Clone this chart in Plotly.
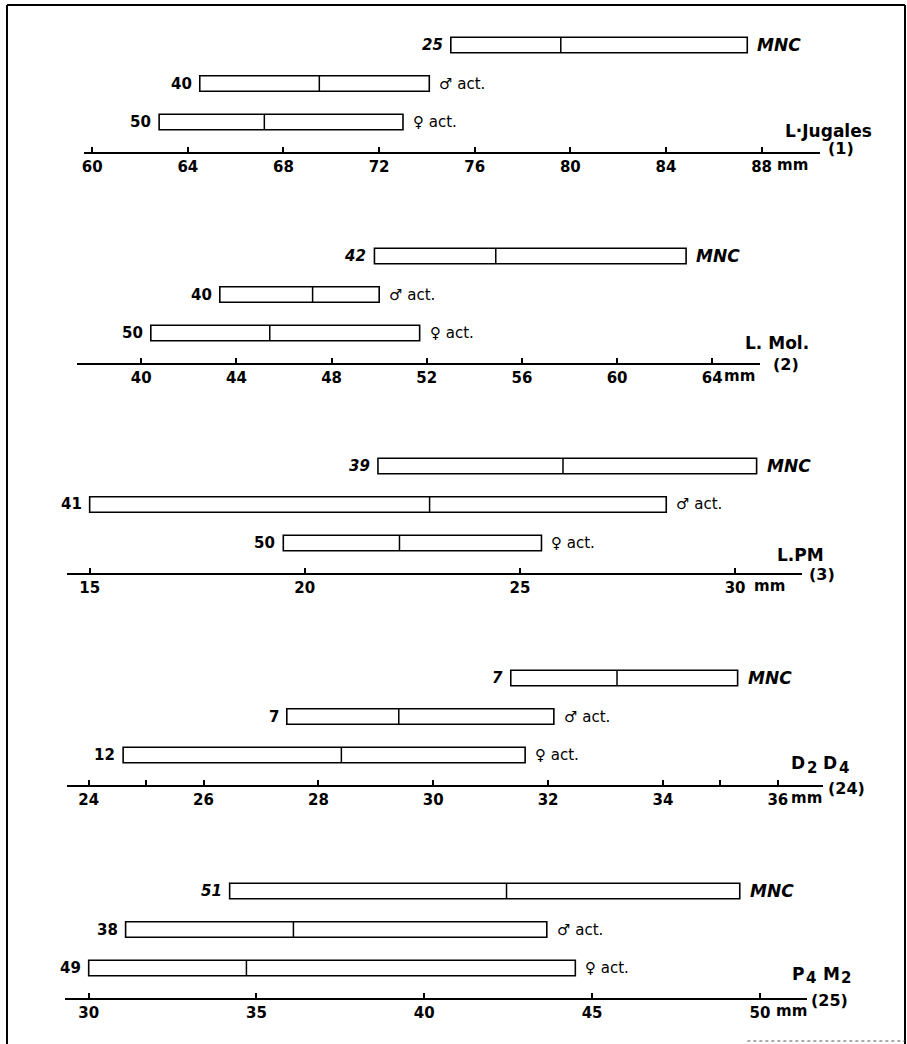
import plotly.graph_objects as go

# Ranges (min, mean, max) and sample counts for three groups per measurement
groups = ["MNC", "♂ act.", "♀ act."]

jugal_n = [25, 40, 50]
jugal_min = [75.0, 64.5, 62.8]
jugal_mean = [79.6, 69.5, 67.2]
jugal_max = [87.4, 74.1, 73.0]

mol_n = [42, 40, 50]
mol_min = [49.8, 43.3, 40.4]
mol_mean = [54.9, 47.2, 45.4]
mol_max = [62.9, 50.0, 51.7]

pm_n = [39, 41, 50]
pm_min = [21.7, 15.0, 19.5]
pm_mean = [26.0, 22.9, 22.2]
pm_max = [30.5, 28.4, 25.5]

d2d4_n = [7, 7, 12]
d2d4_min = [31.35, 27.45, 24.6]
d2d4_mean = [33.2, 29.4, 28.4]
d2d4_max = [35.3, 32.1, 31.6]

p4m2_n = [51, 38, 49]
p4m2_min = [34.2, 31.1, 30.0]
p4m2_mean = [42.45, 36.1, 34.7]
p4m2_max = [49.4, 43.65, 44.5]

jugal_ticks = [60, 64, 68, 72, 76, 80, 84, 88]
mol_ticks = [40, 44, 48, 52, 56, 60, 64]
pm_ticks = [15, 20, 25, 30]
d2d4_ticks = [24, 26, 28, 30, 32, 34, 36]
d2d4_minor_ticks = [25, 35]
p4m2_ticks = [30, 35, 40, 45, 50]

W, H = 907, 1044
FONT = "DejaVu Sans"

# Page layout of each panel (pixels): axis baseline, axis ends, x range, titles.
# Titles are lists of (text, left x, centre y, size) pieces so indices sit lowered.
panels = [
    dict(n=jugal_n, lo=jugal_min, mean=jugal_mean, hi=jugal_max, ticks=jugal_ticks,
         axis_y=152, left=82, right=820, xr=[59.65, 90.45],
         title=[("L·Jugales", 784, 131, 17)], num="(1)", num_pos=(827, 149), mm_shift=13),
    dict(n=mol_n, lo=mol_min, mean=mol_mean, hi=mol_max, ticks=mol_ticks,
         axis_y=363, left=75, right=760, xr=[37.29, 66.02],
         title=[("L. Mol.", 744, 343, 17)], num="(2)", num_pos=(772, 364), mm_shift=10),
    dict(n=pm_n, lo=pm_min, mean=pm_mean, hi=pm_max, ticks=pm_ticks,
         axis_y=573, left=65, right=802, xr=[14.47, 31.56],
         title=[("L.PM", 776, 555, 17)], num="(3)", num_pos=(808, 574), mm_shift=17),
    dict(n=d2d4_n, lo=d2d4_min, mean=d2d4_mean, hi=d2d4_max, ticks=d2d4_ticks,
         axis_y=785, left=65, right=823, xr=[23.62, 36.79],
         title=[("D", 790, 763, 17), ("2", 806, 768, 15), ("D", 822, 763, 17), ("4", 838, 768, 15)],
         num="(24)", num_pos=(827, 788), mm_shift=11),
    dict(n=p4m2_n, lo=p4m2_min, mean=p4m2_mean, hi=p4m2_max, ticks=p4m2_ticks,
         axis_y=998, left=63, right=807, xr=[29.29, 51.41],
         title=[("P", 791, 974, 17), ("4", 805, 978, 15), ("M", 822, 974, 17), ("2", 840, 978, 15)],
         num="(25)", num_pos=(810, 1000), mm_shift=14),
]

ROWS = [3, 2, 1]          # MNC on top, females at the bottom
ROW_PX = 38.5             # vertical distance between rows
FIRST_ROW_PX = 30         # height of the lowest row above the axis
PANEL_PX = 125            # height of each panel's plotting area
HALF = 0.2                # half bar height in row units

TICKFONT = dict(family=FONT, size=15, color="black", weight="bold")

fig = go.Figure()
shapes, annotations = [], []
layout = {}

for k, p in enumerate(panels, start=1):
    sfx = "" if k == 1 else str(k)
    xa, ya = "x" + sfx, "y" + sfx
    y_lo = 1 - FIRST_ROW_PX / ROW_PX
    y_hi = y_lo + PANEL_PX / ROW_PX

    layout["xaxis" + sfx] = dict(
        domain=[p["left"] / W, p["right"] / W], range=p["xr"], anchor=ya,
        tickmode="array", tickvals=p["ticks"], ticktext=[str(t) for t in p["ticks"]],
        ticks="inside", ticklen=5, tickwidth=1.5, tickcolor="black",
        showline=True, linecolor="black", linewidth=1.6,
        showgrid=False, zeroline=False, fixedrange=True, tickfont=TICKFONT,
    )
    layout["yaxis" + sfx] = dict(
        domain=[(H - p["axis_y"]) / H, (H - p["axis_y"] + PANEL_PX) / H],
        range=[y_lo, y_hi], anchor=xa, visible=False, fixedrange=True,
    )

    spans = [h - l for l, h in zip(p["lo"], p["hi"])]
    fig.add_trace(go.Bar(
        orientation="h", y=ROWS, x=spans, base=p["lo"], width=2 * HALF,
        marker=dict(color="white", line=dict(color="black", width=1.6)),
        xaxis=xa, yaxis=ya, hoverinfo="skip",
    ))

    for row, m in zip(ROWS, p["mean"]):
        shapes.append(dict(type="line", xref=xa, yref=ya, x0=m, x1=m,
                           y0=row - HALF, y1=row + HALF,
                           line=dict(color="black", width=1.5)))

    for i, (row, n, lo, hi) in enumerate(zip(ROWS, p["n"], p["lo"], p["hi"])):
        mnc = i == 0
        annotations.append(dict(
            x=lo, y=row, xref=xa, yref=ya, text=str(n), showarrow=False,
            xanchor="right", yanchor="middle", xshift=-6,
            font=dict(family=FONT, size=15, color="black", weight="bold",
                      style="italic" if mnc else "normal")))
        annotations.append(dict(
            x=hi, y=row, xref=xa, yref=ya, text=groups[i], showarrow=False,
            xanchor="left", yanchor="middle", xshift=8,
            font=dict(family=FONT, size=17 if mnc else 15, color="black",
                      weight="bold" if mnc else "normal",
                      style="italic" if mnc else "normal")))

    # unit after the last tick label
    annotations.append(dict(
        x=p["ticks"][-1], y=0, xref=xa, yref=ya + " domain", text="mm",
        showarrow=False, xanchor="left", yanchor="top", xshift=p["mm_shift"], yshift=-2,
        font=TICKFONT))

    for text, tx, ty, size in p["title"]:
        annotations.append(dict(
            x=tx / W, y=1 - ty / H, xref="paper", yref="paper", text=text,
            showarrow=False, xanchor="left", yanchor="middle", borderpad=0,
            font=dict(family=FONT, size=size, color="black", weight="bold")))
    nx, ny = p["num_pos"]
    annotations.append(dict(
        x=nx / W, y=1 - ny / H, xref="paper", yref="paper", text=p["num"],
        showarrow=False, xanchor="left", yanchor="middle", borderpad=0,
        font=dict(family=FONT, size=16, color="black", weight="bold")))

# unlabelled half-way ticks on the D2 D4 scale
layout["xaxis6"] = dict(
    overlaying="x4", anchor="y4", range=panels[3]["xr"], side="bottom",
    tickmode="array", tickvals=d2d4_minor_ticks, showticklabels=False,
    ticks="inside", ticklen=5, tickwidth=1.5, tickcolor="black",
    showline=False, showgrid=False, zeroline=False, fixedrange=True,
)
fig.add_trace(go.Scatter(x=[None], y=[None], xaxis="x6", yaxis="y4",
                         showlegend=False, hoverinfo="skip"))

# page frame
frame = dict(color="black", width=2)
shapes += [
    dict(type="line", xref="paper", yref="paper", x0=5 / W, x1=5 / W, y0=0, y1=1 - 5 / H, line=frame),
    dict(type="line", xref="paper", yref="paper", x0=5 / W, x1=905 / W, y0=1 - 5 / H, y1=1 - 5 / H, line=frame),
    dict(type="line", xref="paper", yref="paper", x0=905 / W, x1=905 / W, y0=0, y1=1 - 5 / H, line=frame),
    dict(type="line", xref="paper", yref="paper", x0=747 / W, x1=905 / W, y0=3 / H, y1=3 / H,
         line=dict(color="#555555", width=1, dash="dot")),
]

fig.update_layout(
    width=W, height=H, margin=dict(l=0, r=0, t=0, b=0),
    paper_bgcolor="white", plot_bgcolor="rgba(0,0,0,0)",
    showlegend=False, barmode="overlay",
    shapes=shapes, annotations=annotations, **layout,
)

fig.write_html("out.html")
